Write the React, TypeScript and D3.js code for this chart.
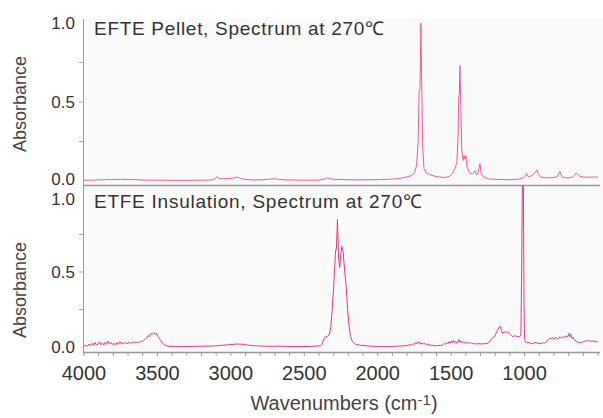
import React, { useEffect, useRef } from 'react'
import * as d3 from 'd3'

// [wavenumber (cm-1), absorbance]
const pelletSpectrum: [number, number][] = [
  [4000, 0.004], [3960, 0.006], [3930, 0.005], [3900, 0.008], [3870, 0.007], [3840, 0.01], [3810, 0.008],
  [3780, 0.011], [3750, 0.009], [3720, 0.012], [3690, 0.008], [3660, 0.01], [3620, 0.007], [3580, 0.006],
  [3520, 0.005], [3450, 0.005], [3380, 0.004], [3300, 0.004], [3220, 0.005], [3150, 0.006], [3110, 0.01],
  [3095, 0.028], [3085, 0.018], [3060, 0.014], [3020, 0.016], [2980, 0.018], [2955, 0.026], [2935, 0.016],
  [2900, 0.01], [2850, 0.007], [2780, 0.008], [2730, 0.012], [2700, 0.014], [2670, 0.01], [2620, 0.007],
  [2550, 0.006], [2480, 0.005], [2400, 0.006], [2365, 0.012], [2345, 0.02], [2325, 0.015], [2300, 0.011],
  [2260, 0.01], [2200, 0.008], [2120, 0.007], [2050, 0.008], [1980, 0.009], [1920, 0.011], [1870, 0.014],
  [1830, 0.02], [1800, 0.026], [1770, 0.035], [1750, 0.05], [1735, 0.1], [1725, 0.25], [1718, 0.57],
  [1712, 0.58], [1706, 1.0], [1700, 0.6], [1694, 0.22], [1685, 0.08], [1679, 0.07], [1670, 0.05],
  [1645, 0.04], [1610, 0.03], [1577, 0.025], [1543, 0.022], [1510, 0.03], [1488, 0.05], [1470, 0.09],
  [1461, 0.12], [1452, 0.3], [1448, 0.54], [1444, 0.55], [1440, 0.73], [1435, 0.5], [1428, 0.2],
  [1418, 0.13], [1412, 0.16], [1406, 0.14], [1400, 0.16], [1392, 0.09], [1380, 0.06], [1372, 0.05],
  [1355, 0.045], [1338, 0.065], [1328, 0.04], [1318, 0.045], [1310, 0.08], [1304, 0.11], [1296, 0.05],
  [1284, 0.03], [1260, 0.018], [1236, 0.012], [1180, 0.01], [1100, 0.008], [1040, 0.012], [1010, 0.02],
  [995, 0.03], [984, 0.045], [975, 0.028], [960, 0.03], [940, 0.04], [925, 0.06], [916, 0.07], [905, 0.04],
  [890, 0.025], [860, 0.02], [830, 0.02], [800, 0.022], [775, 0.03], [765, 0.05], [760, 0.06], [752, 0.04],
  [740, 0.022], [710, 0.02], [680, 0.022], [660, 0.035], [650, 0.05], [640, 0.045], [625, 0.03],
  [600, 0.025], [560, 0.024], [530, 0.025], [500, 0.025],
]

const insulationSpectrum: [number, number][] = [
  [4000, 0.005], [3985, 0.012], [3975, 0.004], [3965, 0.02], [3955, 0.008], [3945, 0.025], [3935, 0.01],
  [3925, 0.03], [3915, 0.012], [3905, 0.018], [3895, 0.035], [3885, 0.015], [3875, 0.028], [3865, 0.012],
  [3855, 0.032], [3845, 0.018], [3835, 0.04], [3825, 0.02], [3815, 0.03], [3805, 0.015], [3795, 0.025],
  [3785, 0.012], [3775, 0.03], [3765, 0.018], [3755, 0.035], [3745, 0.02], [3735, 0.028], [3725, 0.022],
  [3715, 0.03], [3705, 0.02], [3695, 0.032], [3685, 0.024], [3675, 0.03], [3665, 0.026], [3655, 0.035],
  [3645, 0.028], [3635, 0.032], [3625, 0.03], [3615, 0.04], [3605, 0.035], [3595, 0.045], [3585, 0.05],
  [3575, 0.06], [3565, 0.075], [3555, 0.07], [3545, 0.09], [3535, 0.085], [3525, 0.095], [3515, 0.085],
  [3505, 0.09], [3495, 0.07], [3480, 0.045], [3465, 0.025], [3450, 0.012], [3430, 0.006], [3400, 0.004],
  [3350, 0.004], [3300, 0.003], [3250, 0.004], [3200, 0.005], [3150, 0.006], [3100, 0.008], [3050, 0.012],
  [3000, 0.016], [2960, 0.02], [2920, 0.018], [2880, 0.012], [2830, 0.008], [2780, 0.006], [2720, 0.004],
  [2680, 0.006], [2640, 0.004], [2580, 0.003], [2520, 0.003], [2460, 0.004], [2420, 0.006], [2390, 0.008],
  [2380, 0.015], [2370, 0.045], [2360, 0.065], [2345, 0.07], [2330, 0.08], [2320, 0.13], [2310, 0.25],
  [2300, 0.4], [2292, 0.55], [2287, 0.64], [2281, 0.66], [2274, 0.85], [2267, 0.6], [2259, 0.53],
  [2251, 0.62], [2244, 0.67], [2236, 0.64], [2226, 0.52], [2216, 0.42], [2205, 0.25], [2195, 0.14],
  [2185, 0.07], [2172, 0.035], [2150, 0.018], [2120, 0.012], [2080, 0.008], [2040, 0.005], [2000, 0.003],
  [1960, 0.002], [1920, 0.003], [1880, 0.005], [1850, 0.006], [1820, 0.008], [1800, 0.01], [1780, 0.015],
  [1770, 0.012], [1760, 0.022], [1750, 0.018], [1742, 0.03], [1735, 0.02], [1728, 0.035], [1720, 0.025],
  [1712, 0.03], [1705, 0.018], [1698, 0.028], [1690, 0.02], [1680, 0.025], [1670, 0.015], [1660, 0.02],
  [1645, 0.012], [1630, 0.012], [1610, 0.008], [1590, 0.01], [1570, 0.01], [1555, 0.015], [1545, 0.025],
  [1538, 0.018], [1530, 0.03], [1522, 0.022], [1515, 0.035], [1508, 0.025], [1500, 0.04], [1492, 0.028],
  [1485, 0.045], [1478, 0.03], [1470, 0.038], [1462, 0.025], [1455, 0.035], [1446, 0.05], [1440, 0.03],
  [1432, 0.04], [1424, 0.028], [1416, 0.035], [1408, 0.025], [1400, 0.03], [1390, 0.025], [1380, 0.032],
  [1370, 0.022], [1360, 0.028], [1350, 0.02], [1340, 0.025], [1330, 0.02], [1310, 0.022], [1290, 0.02],
  [1270, 0.022], [1250, 0.025], [1235, 0.04], [1220, 0.06], [1205, 0.07], [1195, 0.09], [1185, 0.11],
  [1175, 0.13], [1168, 0.14], [1160, 0.12], [1150, 0.09], [1140, 0.1], [1128, 0.1], [1114, 0.1],
  [1100, 0.085], [1090, 0.075], [1080, 0.07], [1065, 0.075], [1050, 0.07], [1035, 0.07], [1025, 0.08],
  [1020, 0.5], [1015, 1.08], [1008, 1.07], [1004, 0.3], [1000, 0.06], [995, 0.035], [985, 0.03],
  [970, 0.03], [955, 0.022], [940, 0.025], [925, 0.03], [910, 0.025], [895, 0.022], [880, 0.028],
  [865, 0.025], [850, 0.035], [838, 0.05], [828, 0.06], [818, 0.055], [808, 0.062], [798, 0.05],
  [788, 0.065], [778, 0.055], [768, 0.06], [758, 0.068], [748, 0.058], [738, 0.07], [728, 0.062],
  [718, 0.075], [708, 0.065], [698, 0.09], [692, 0.07], [686, 0.085], [680, 0.06], [672, 0.065],
  [662, 0.048], [650, 0.04], [638, 0.032], [625, 0.028], [612, 0.03], [600, 0.035], [585, 0.04],
  [570, 0.042], [555, 0.04], [540, 0.038], [525, 0.04], [510, 0.035], [500, 0.033],
]

const xTickValues = [4000, 3500, 3000, 2500, 2000, 1500, 1000]
const yTickValues = [0, 0.5, 1]
const panelTitles = ['EFTE Pellet, Spectrum at 270\u2103', 'ETFE Insulation, Spectrum at 270\u2103']

const FONT = '"Liberation Sans", Arial, sans-serif'

function App() {
  const chartRef = useRef<SVGSVGElement>(null)

  useEffect(() => {
    const svg = d3.select(chartRef.current)
    svg.selectAll('*').remove()

    const x = d3.scaleLinear().domain([4000, 500]).range([84, 598])

    const panels = [
      { data: pelletSpectrum, title: panelTitles[0], titleLen: 290, top: 19, bottom: 185, y: d3.scaleLinear().domain([0, 1]).range([181, 23]), color: '#ee5a94', ticks: false },
      { data: insulationSpectrum, title: panelTitles[1], titleLen: 328, top: 186, bottom: 352, y: d3.scaleLinear().domain([0, 1]).range([347, 197]), color: '#e33a80', ticks: true },
    ]

    // plot background
    svg.append('rect').attr('x', 83).attr('y', 19).attr('width', 520).attr('height', 333).attr('fill', '#fafafa')

    panels.forEach((p, i) => {
      const g = svg.append('g')

      // y axis line + ticks
      g.append('line').attr('x1', 83.5).attr('x2', 83.5).attr('y1', p.top).attr('y2', p.bottom).attr('stroke', '#999').attr('stroke-width', 1)
      ;[0.25, 0.5, 0.75].forEach((v) => {
        g.append('line').attr('x1', 79).attr('x2', 83).attr('y1', p.y(v)).attr('y2', p.y(v)).attr('stroke', '#aaa')
      })
      yTickValues.forEach((v) => {
        // the two labels where the panels meet are nudged apart
        const shift = i === 0 && v === 0 ? -2 : i === 1 && v === 1 ? 1.5 : 0
        g.append('text')
          .attr('x', 75)
          .attr('y', p.y(v) + 6 + shift)
          .attr('text-anchor', 'end')
          .attr('font-family', FONT)
          .attr('font-size', 17)
          .attr('fill', '#333')
          .text(v.toFixed(1))
      })

      // y title
      g.append('text')
        .attr('transform', `translate(26, ${i === 0 ? 104 : 290}) rotate(-90)`)
        .attr('text-anchor', 'middle')
        .attr('font-family', FONT)
        .attr('font-size', 18)
        .attr('fill', '#444')
        .text('Absorbance')

      // spectrum
      const line = d3
        .line<[number, number]>()
        .x((d) => x(d[0]))
        .y((d) => p.y(d[1]))
      g.append('path').datum(p.data).attr('fill', 'none').attr('stroke', p.color).attr('stroke-width', 1).attr('d', line)

      // bottom axis line
      g.append('line').attr('x1', 83).attr('x2', 600).attr('y1', p.bottom + 0.5).attr('y2', p.bottom + 0.5).attr('stroke', '#999').attr('stroke-width', 1.5)

      // panel title
      g.append('text')
        .attr('x', 94)
        .attr('y', p.top + 16 + (i === 0 ? 0 : 6))
        .attr('font-family', FONT)
        .attr('font-size', 19)
        .attr('fill', '#333')
        .attr('textLength', p.titleLen)
        .attr('lengthAdjust', 'spacing')
        .text(p.title)

      if (p.ticks) {
        d3.range(4000, 499, -100).forEach((w) => {
          g.append('line').attr('x1', x(w)).attr('x2', x(w)).attr('y1', p.bottom + 1).attr('y2', p.bottom + 4).attr('stroke', '#999')
        })
      }
    })

    // x tick labels
    xTickValues.forEach((w) => {
      svg
        .append('text')
        .attr('x', x(w))
        .attr('y', 380)
        .attr('text-anchor', 'middle')
        .attr('font-family', FONT)
        .attr('font-size', 20)
        .attr('fill', '#333')
        .text(w)
    })

    // x title
    const xt = svg
      .append('text')
      .attr('x', 344)
      .attr('y', 410)
      .attr('text-anchor', 'middle')
      .attr('font-family', FONT)
      .attr('font-size', 20)
      .attr('fill', '#444')
    xt.append('tspan').text('Wavenumbers (cm')
    xt.append('tspan').attr('font-size', 15).attr('dy', -5).text('-1')
    xt.append('tspan').attr('dy', 5).text(')')
  }, [])

  return <svg ref={chartRef} width={603} height={418} style={{ position: 'absolute', left: 0, top: 0, background: '#fff' }} />
}

export default App
